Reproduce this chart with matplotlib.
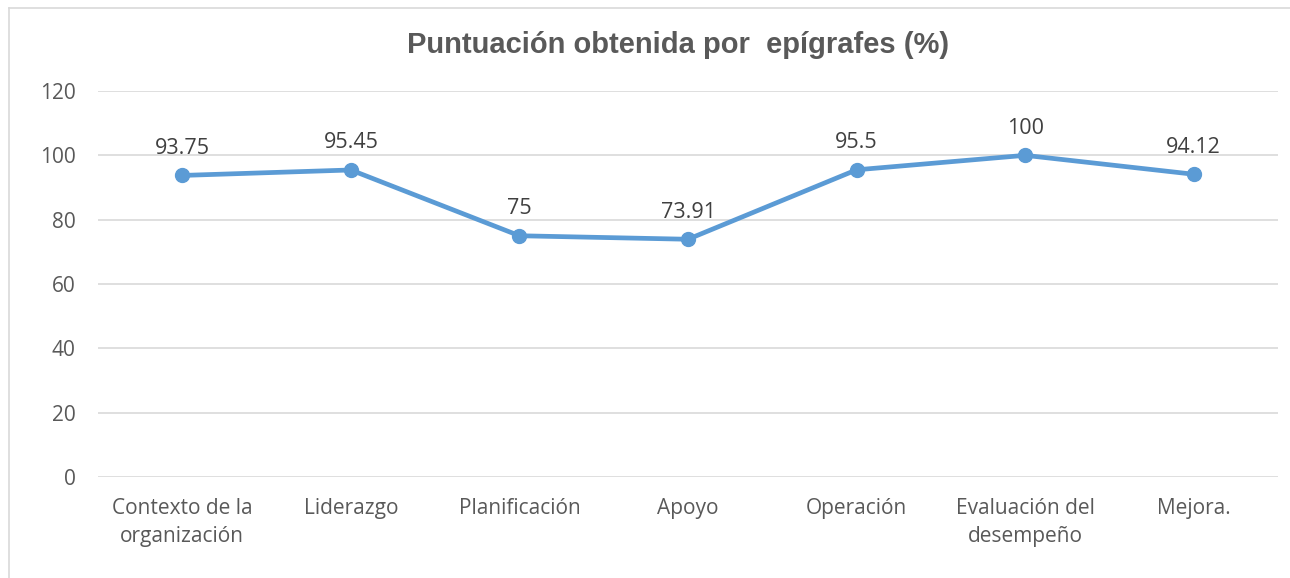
import matplotlib.pyplot as plt
from matplotlib.lines import Line2D

categorias = ["Contexto de la\norganización", "Liderazgo", "Planificación", "Apoyo",
              "Operación", "Evaluación del\ndesempeño", "Mejora."]
valores = [93.75, 95.45, 75, 73.91, 95.5, 100, 94.12]
etiquetas = ["93.75", "95.45", "75", "73.91", "95.5", "100", "94.12"]
ticks_y = [0, 20, 40, 60, 80, 100, 120]

azul = "#5B9BD5"
gris_texto = "#595959"

fig = plt.figure(figsize=(12.9, 5.78), dpi=100)
ax = fig.add_axes([98/1290, 1 - 477/578, 1180/1290, 386/578])

x = list(range(len(categorias)))
ax.plot(x, valores, color=azul, lw=3.4, marker="o", ms=10, solid_capstyle="round", zorder=3)

for xi, v, t in zip(x, valores, etiquetas):
    ax.annotate(t, (xi, v), xytext=(0, 12), textcoords="offset points",
                ha="center", va="bottom", fontsize=15.5, color="#404040", family="Open Sans")

ax.set_xlim(-0.5, len(categorias) - 0.5)
ax.set_ylim(0, 120)
ax.set_yticks(ticks_y)
ax.set_xticks(x)
ax.set_xticklabels(categorias, fontsize=15, color=gris_texto, family="Open Sans", linespacing=1.45)
ax.set_yticklabels([str(t) for t in ticks_y], fontsize=15, color=gris_texto, family="Open Sans")
ax.tick_params(length=0)
ax.tick_params(axis="y", pad=16)
ax.tick_params(axis="x", pad=15)
ax.grid(axis="y", color="#D9D9D9", lw=1.2)
ax.set_axisbelow(True)
for s in ax.spines.values():
    s.set_visible(False)

fig.text(678/1290, 1 - 45/578, "Puntuación obtenida por  epígrafes (%)", ha="center", va="center",
         fontsize=21, fontweight="bold", color=gris_texto, family="Liberation Sans")

# marco del gráfico (solo izquierda y arriba visibles)
y_top = 1 - 8/578
x_left = 9/1290
fig.lines.append(Line2D([x_left, x_left], [0, y_top], transform=fig.transFigure, color="#D9D9D9", lw=1.2))
fig.lines.append(Line2D([x_left, 1], [y_top, y_top], transform=fig.transFigure, color="#D9D9D9", lw=1.2))

fig.savefig("out.png", dpi=100)
